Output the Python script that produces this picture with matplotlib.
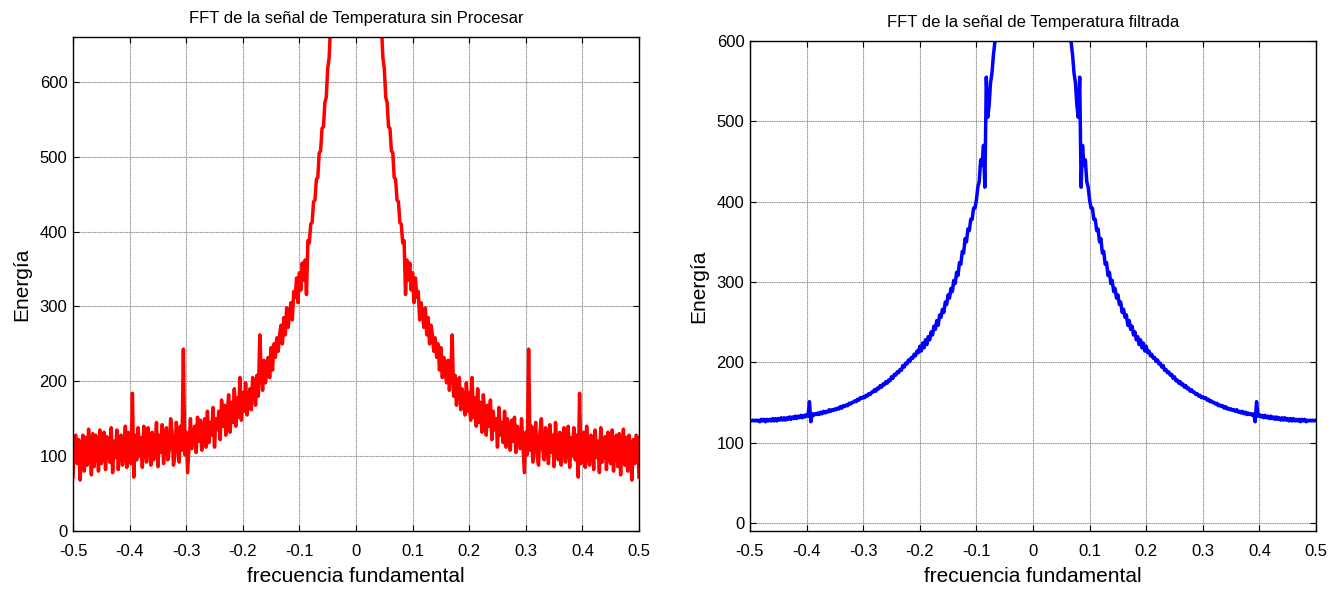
import numpy as np
import matplotlib
matplotlib.use("Agg")
import matplotlib.pyplot as plt

# one-sided spectra (f = 0 .. 0.5, step 0.0025), mirrored for the negative side
half_freq = np.linspace(0.0, 0.5, 201)

raw_half = [
    9000, 6000, 4200, 3300, 2700, 2300, 2000, 1750, 1550, 1380,
    1240, 1120, 1020, 940, 870, 810, 760, 715,
    675, 632, 618, 580, 572, 540, 538, 508, 505, 472,
    470, 442, 440, 412, 410, 385, 388,
    316,
    362, 335, 358, 322, 345, 305, 338, 312, 320, 282,
    305, 290, 272, 298, 262, 285, 250, 275, 262, 240,
    258, 232, 250, 215, 245, 205, 232, 212, 198, 228,
    188, 215,
    262,
    180, 208, 168, 196, 205, 162, 190, 175, 155, 198,
    160, 185, 148, 205, 152, 178, 140, 190, 145, 172,
    132, 182, 158, 128, 168, 140, 175, 122, 160, 135,
    150, 112, 165, 128, 145, 118, 160, 112, 150, 138,
    108, 148, 120, 152, 105, 140, 125, 110, 150, 115,
    78,
    132, 102,
    243,
    108, 140, 92, 125, 145, 100, 88, 132, 150, 108,
    95, 138, 118, 90, 142, 105, 128, 86, 145, 112,
    95, 132, 88, 120, 138, 92, 110, 140, 85, 125,
    100, 138, 95, 128,
    72,
    184,
    90, 118, 132, 85, 140, 105, 88, 128, 110, 82,
    135, 98, 120, 78, 138, 92, 115, 126, 82, 132,
    100, 90, 135, 80, 118, 128, 86, 130, 75, 112,
    136, 88, 125, 80, 128, 105, 68, 122, 90, 128,
    125, 72,
]

filt_half = [
    9000, 7000, 5000, 4200, 3500, 3050, 2700, 2380, 2100, 1880,
    1700, 1540, 1400, 1280, 1180, 1090, 1010, 940, 880, 825,
    780, 738, 702, 672, 648, 628, 612, 598, 582, 560,
    548, 520, 505, 555, 418, 470, 445, 452, 425, 418,
    402, 392, 392, 378, 378, 364, 366, 350, 354, 336,
    338, 322, 324, 308, 312, 298, 302, 288, 292, 280,
    284, 272, 275, 262, 266, 256, 259, 246, 252, 241,
    245, 234, 238, 228, 232, 222, 228, 218, 224, 214,
    220, 212, 214, 208, 210, 205, 206, 201, 203, 198,
    199, 194, 196, 190, 191, 187, 188, 184, 185, 180,
    182, 177, 178, 174, 176, 172, 173, 169, 171, 167,
    168, 164, 166, 163, 163, 160, 161, 158, 159, 156,
    157, 155, 156, 153, 154, 151, 152, 150, 150, 148,
    149, 146, 147, 145, 146, 143, 145, 142, 143, 141,
    142, 140, 141, 139, 141, 138, 139, 137, 139, 136,
    138, 135, 137, 135, 136, 134, 136, 126, 151, 133,
    135, 132, 134, 131, 134, 131, 133, 130, 133, 130,
    132, 129, 132, 129, 131, 128, 131, 128, 131, 128,
    130, 127, 130, 127, 130, 127, 129, 127, 129, 126,
    129, 127, 129, 126, 128, 127, 128, 127, 128, 127,
    128,
]

xticks = [-0.5, -0.4, -0.3, -0.2, -0.1, 0, 0.1, 0.2, 0.3, 0.4, 0.5]
xtick_labels = ["-0.5", "-0.4", "-0.3", "-0.2", "-0.1", "0", "0.1", "0.2", "0.3", "0.4", "0.5"]
yticks = [0, 100, 200, 300, 400, 500, 600]


def mirror(half):
    half = np.asarray(half, dtype=float)
    return np.concatenate([half[:0:-1], half])


freq = np.concatenate([-half_freq[:0:-1], half_freq])
raw = mirror(raw_half)
filt = mirror(filt_half)

plt.rcParams['font.family'] = ['Liberation Sans', 'DejaVu Sans']

fig = plt.figure(figsize=(13.42, 5.89), dpi=100)
ax1 = fig.add_axes([73 / 1342, 58 / 589, 566 / 1342, 494 / 589])
ax2 = fig.add_axes([750 / 1342, 58 / 589, 566 / 1342, 490 / 589])


def style(ax, title, ylim):
    ax.set_xlim(-0.5, 0.5)
    ax.set_ylim(*ylim)
    ax.set_xticks(xticks)
    ax.set_xticklabels(xtick_labels)
    ax.set_yticks(yticks)
    ax.grid(True, color='0.55', linestyle=(0, (1, 0.6)), linewidth=0.8)
    ax.set_axisbelow(True)
    ax.tick_params(direction='in', top=True, right=True, length=4,
                   labelsize=12, width=0.8, pad=4)
    ax.tick_params(axis='x', pad=9)
    for s in ax.spines.values():
        s.set_linewidth(1.0)
    ax.set_title(title, fontsize=12, pad=10)
    ax.set_xlabel('frecuencia fundamental', fontsize=15, labelpad=6)
    ax.set_ylabel('Energía', fontsize=15, labelpad=6)


ax1.plot(freq, raw, color='#ff0000', linewidth=2.5)
style(ax1, 'FFT de la señal de Temperatura sin Procesar', (0, 660))

ax2.plot(freq, filt, color='#0000ff', linewidth=2.5)
style(ax2, 'FFT de la señal de Temperatura filtrada', (-10, 600))

fig.savefig('out.png', dpi=100)
